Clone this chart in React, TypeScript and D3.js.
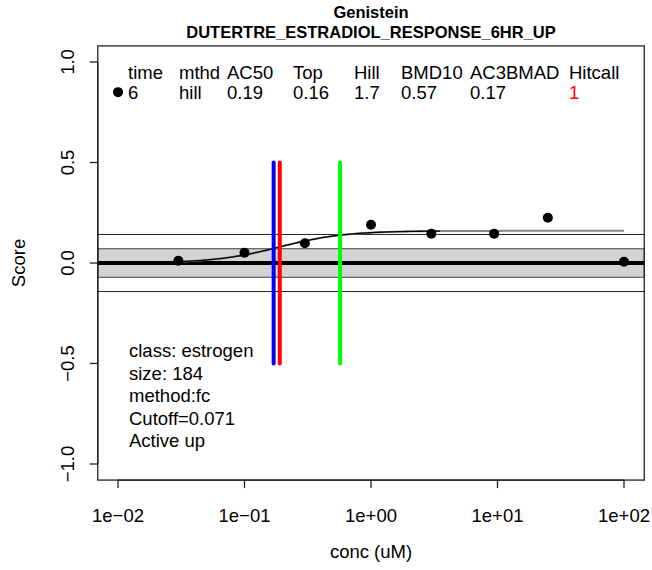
import React from 'react';
import * as d3 from 'd3';

// data
const conc = [0.03, 0.1, 0.3, 1, 3, 9.4, 25, 100];
const score = [0.011, 0.051, 0.098, 0.19, 0.146, 0.146, 0.225, 0.006];

const xTicks = [0.01, 0.1, 1, 10, 100];
const xTickLabels = ['1e\u221202', '1e\u221201', '1e+00', '1e+01', '1e+02'];
const yTicks = [-1, -0.5, 0, 0.5, 1];
const yTickLabels = ['\u22121.0', '\u22120.5', '0.0', '0.5', '1.0'];

const tableHead = ['time', 'mthd', 'AC50', 'Top', 'Hill', 'BMD10', 'AC3BMAD', 'Hitcall'];
const tableVals = ['6', 'hill', '0.19', '0.16', '1.7', '0.57', '0.17', '1'];
const infoLines = ['class: estrogen', 'size: 184', 'method:fc', 'Cutoff=0.071', 'Active up'];

const fitTop = 0.16;
const fitAc50 = 0.19;
const fitHill = 1.7;
const bmd10 = 0.57;
const ac3bmad = 0.17;
const cutoff = 0.071;

const W = 652;
const H = 570;
const FONT = '"Liberation Sans", Arial, sans-serif';

const App = () => {
  const x = d3.scaleLog().domain([0.01, 100]).range([118, 624]);
  const y = d3.scaleLinear().domain([-1, 1]).range([464, 62]);

  // R pads the axes by 4%
  const boxL = x(Math.pow(10, -2.16));
  const boxR = x(Math.pow(10, 2.16));
  const boxT = y(1.08);
  const boxB = y(-1.08);

  const hillFn = (c: number) => fitTop / (1 + Math.pow(fitAc50 / c, fitHill));
  const line = d3.line<number>().x(c => x(c)).y(c => y(hillFn(c)));
  const grid = (a: number, b: number) =>
    d3.range(0, 101).map(i => Math.pow(10, Math.log10(a) + (i / 100) * (Math.log10(b) - Math.log10(a))));

  const colX = [128, 179, 227, 293, 354, 401, 470, 569];

  return (
    <svg width={W} height={H} style={{ position: 'absolute', left: 0, top: 0 }} fontFamily={FONT}>
      <rect width={W} height={H} fill="#fff" />

      {/* title */}
      <text x={(boxL + boxR) / 2} y={18} textAnchor="middle" fontWeight="bold" fontSize={16.5}>Genistein</text>
      <text x={(boxL + boxR) / 2} y={38} textAnchor="middle" fontWeight="bold" fontSize={16.5}>DUTERTRE_ESTRADIOL_RESPONSE_6HR_UP</text>

      {/* cutoff band */}
      <rect x={boxL} width={boxR - boxL} y={y(cutoff)} height={y(-cutoff) - y(cutoff)} fill="#d3d3d3" stroke="#444" strokeWidth={1} />
      <line x1={boxL} x2={boxR} y1={y(2 * cutoff)} y2={y(2 * cutoff)} stroke="#222" strokeWidth={1} />
      <line x1={boxL} x2={boxR} y1={y(-2 * cutoff)} y2={y(-2 * cutoff)} stroke="#222" strokeWidth={1} />
      <line x1={boxL} x2={boxR} y1={y(0)} y2={y(0)} stroke="#000" strokeWidth={4} />

      {/* fit */}
      <path d={line(grid(conc[0], conc[conc.length - 1])) || ''} fill="none" stroke="#888" strokeWidth={2} />
      <path d={line(grid(conc[0], 3.5)) || ''} fill="none" stroke="#000" strokeWidth={1.3} />

      {/* markers */}
      {[
        { v: ac3bmad, c: '#0000ff' },
        { v: fitAc50, c: '#ff0000' },
        { v: bmd10, c: '#00ff00' },
      ].map(m => (
        <line key={m.c} x1={x(m.v)} x2={x(m.v)} y1={y(0.5)} y2={y(-0.5)} stroke={m.c} strokeWidth={4} strokeLinecap="round" />
      ))}

      {conc.map((c, i) => (
        <circle key={i} cx={x(c)} cy={y(score[i])} r={5} fill="#000" />
      ))}

      {/* table */}
      <circle cx={118} cy={y(0.85)} r={5} fill="#000" />
      {tableHead.map((t, i) => (
        <text key={t} x={colX[i]} y={79} fontSize={18.5}>{t}</text>
      ))}
      {tableVals.map((t, i) => (
        <text key={i} x={colX[i]} y={99} fontSize={18.5} fill={i === tableVals.length - 1 ? '#ff0000' : '#000'}>{t}</text>
      ))}

      {infoLines.map((t, i) => (
        <text key={t} x={129} y={357 + i * 22.6} fontSize={18.5}>{t}</text>
      ))}

      {/* box */}
      <rect x={boxL} y={boxT} width={boxR - boxL} height={boxB - boxT} fill="none" stroke="#222" strokeWidth={1.3} />

      {/* x axis */}
      <line x1={x(0.01)} x2={x(100)} y1={boxB} y2={boxB} stroke="#222" strokeWidth={1.3} />
      {xTicks.map((t, i) => (
        <g key={t}>
          <line x1={x(t)} x2={x(t)} y1={boxB} y2={boxB + 8} stroke="#222" strokeWidth={1.3} />
          <text x={x(t)} y={522} textAnchor="middle" fontSize={18.5}>{xTickLabels[i]}</text>
        </g>
      ))}
      <text x={(boxL + boxR) / 2} y={558} textAnchor="middle" fontSize={18.5}>conc (uM)</text>

      {/* y axis */}
      <line x1={boxL} x2={boxL} y1={y(-1)} y2={y(1)} stroke="#222" strokeWidth={1.3} />
      {yTicks.map((t, i) => (
        <g key={t}>
          <line x1={boxL} x2={boxL - 8} y1={y(t)} y2={y(t)} stroke="#222" strokeWidth={1.3} />
          <text transform={`translate(74,${y(t)}) rotate(-90)`} textAnchor="middle" fontSize={18.5}>{yTickLabels[i]}</text>
        </g>
      ))}
      <text transform={`translate(25,${y(0)}) rotate(-90)`} textAnchor="middle" fontSize={18.5}>Score</text>
    </svg>
  );
};

export default App;
